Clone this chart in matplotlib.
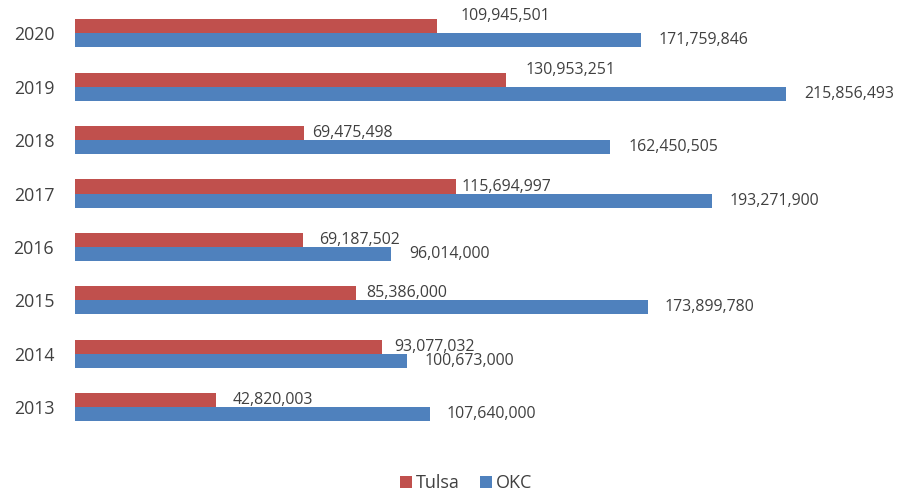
import matplotlib.pyplot as plt
import numpy as np

years = ["2013", "2014", "2015", "2016", "2017", "2018", "2019", "2020"]
tulsa = [42820003, 93077032, 85386000, 69187502, 115694997, 69475498, 130953251, 109945501]
okc = [107640000, 100673000, 173899780, 96014000, 193271900, 162450505, 215856493, 171759846]

# label nudges in points (dx, dy), roughly as placed in the original
tulsa_off = [(12, 0), (9, 0), (7, 0), (12, 0), (4, 0), (6, 0), (14, 7), (17, 7)]
okc_off = [(12, 0), (13, 0), (12, 0), (13, 0), (13, 0), (13, 0), (13, 0), (13, 0)]

plt.rcParams["font.family"] = ["Open Sans", "DejaVu Sans"]
txt = "#404040"

fig = plt.figure(figsize=(9.09, 4.96), dpi=100)
ax = fig.add_axes([75 / 909, 0.125, 805 / 909, 0.862])

y = np.arange(len(years))
h = 0.262
b1 = ax.barh(y + h / 2, tulsa, height=h, color="#C0504D", label="Tulsa")
b2 = ax.barh(y - h / 2, okc, height=h, color="#4F81BD", label="OKC")

for bars, vals, offs in [(b1, tulsa, tulsa_off), (b2, okc, okc_off)]:
    for r, v, o in zip(bars, vals, offs):
        ax.annotate(f"{v:,}", (r.get_width(), r.get_y() + r.get_height() / 2),
                    xytext=o, textcoords="offset points", ha="left", va="center",
                    fontsize=11.4, color=txt)

ax.set_xlim(0, 805 / 3.294 * 1e6)
ax.set_ylim(-0.5, 7.5)
ax.set_yticks(y)
ax.set_yticklabels(years, fontsize=12.8, color=txt)
ax.tick_params(axis="y", length=0, pad=15)
ax.set_xticks([])
for s in ax.spines.values():
    s.set_visible(False)

fig.legend(loc="lower center", bbox_to_anchor=(0.513, -0.025), ncol=2, frameon=False,
           fontsize=13, labelcolor=txt, handlelength=0.65, handleheight=0.65,
           handletextpad=0.25, columnspacing=1.1)

fig.savefig("out.png", dpi=100)
